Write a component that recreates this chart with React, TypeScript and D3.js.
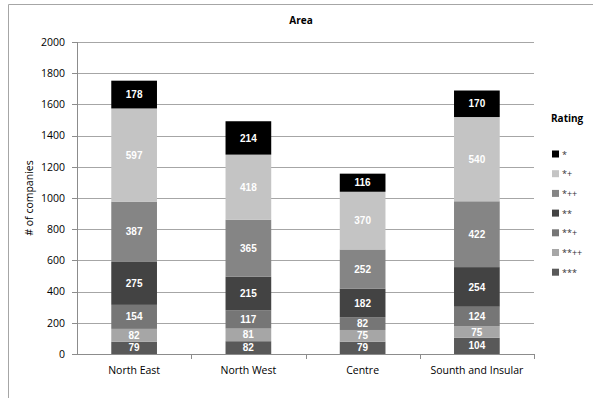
import React from "react";
import * as d3 from "d3";

// Company counts per area, stacked by rating (bottom to top)
const areas = ["North East", "North West", "Centre", "Sounth and Insular"];
const ratings = ["***", "**++", "**+", "**", "*++", "*+", "*"];
const rating3 = [79, 82, 79, 104];      // ***
const rating2pp = [82, 81, 75, 75];     // **++
const rating2p = [154, 117, 82, 124];   // **+
const rating2 = [275, 215, 182, 254];   // **
const rating1pp = [387, 365, 252, 422]; // *++
const rating1p = [597, 418, 370, 540];  // *+
const rating1 = [178, 214, 116, 170];   // *
const yTicks = [0, 200, 400, 600, 800, 1000, 1200, 1400, 1600, 1800, 2000];

const seriesValues = [rating3, rating2pp, rating2p, rating2, rating1pp, rating1p, rating1];
const colors: Record<string, string> = {
  "***": "#595959",
  "**++": "#a6a6a6",
  "**+": "#767676",
  "**": "#434343",
  "*++": "#858585",
  "*+": "#c4c4c4",
  "*": "#000000",
};
const legendOrder = ["*", "*+", "*++", "**", "**+", "**++", "***"];

const W = 593;
const H = 399;
const FONT = "'Open Sans', 'Liberation Sans', sans-serif";
const LABEL_FONT = "'Liberation Sans', 'DejaVu Sans', sans-serif";

export default function App() {
  const rows = areas.map((a, i) => {
    const r: Record<string, any> = { area: a };
    ratings.forEach((k, j) => (r[k] = seriesValues[j][i]));
    return r;
  });
  const stacked = d3.stack<any>().keys(ratings)(rows);

  const x = d3.scaleBand<string>().domain(areas).range([77, 534]).paddingInner(0.6).paddingOuter(0.3);
  const y = d3.scaleLinear().domain([0, 2000]).range([354, 42]);
  const step = x.step();
  const x0 = 77;

  return (
    <svg
      width={W}
      height={H}
      style={{ position: "absolute", left: 0, top: 0, background: "#fff" }}
      fontFamily={FONT}
    >
      <rect x={0} y={0} width={W} height={H} fill="#fff" />
      {/* outer frame */}
      <line x1={8.5} y1={4.5} x2={W} y2={4.5} stroke="#a6a6a6" />
      <line x1={8.5} y1={4.5} x2={8.5} y2={398} stroke="#a6a6a6" />

      <text x={301} y={24} textAnchor="middle" fontSize={10} fontWeight="bold" fill="#000">
        Area
      </text>

      {/* gridlines and y ticks */}
      {yTicks.map((t) => (
        <g key={t}>
          <line
            x1={x0}
            x2={534}
            y1={Math.round(y(t)) + 0.5}
            y2={Math.round(y(t)) + 0.5}
            stroke={t === 0 ? "#8c8c8c" : "#a6a6a6"}
          />
          <line x1={72} x2={x0} y1={Math.round(y(t)) + 0.5} y2={Math.round(y(t)) + 0.5} stroke="#8c8c8c" />
          <text x={65} y={y(t) + 3.8} textAnchor="end" fontSize={10.5} fill="#000">
            {t}
          </text>
        </g>
      ))}
      <line x1={x0 + 0.5} x2={x0 + 0.5} y1={y(2000)} y2={y(0)} stroke="#8c8c8c" />
      {areas.map((_, i) => (
        <line
          key={i}
          x1={Math.round(x0 + step * (i + 1)) + 0.5}
          x2={Math.round(x0 + step * (i + 1)) + 0.5}
          y1={y(0)}
          y2={y(0) + 5}
          stroke="#8c8c8c"
        />
      ))}

      <text
        transform={`translate(33,198) rotate(-90)`}
        textAnchor="middle"
        fontSize={10.5}
        fill="#000"
      >
        # of companies
      </text>

      {/* stacked bars */}
      {stacked.map((s) => (
        <g key={s.key}>
          {s.map((d, i) => {
            const bx = x(areas[i])!;
            const top = y(d[1]);
            const bot = y(d[0]);
            return (
              <g key={i}>
                <rect x={bx} y={top} width={x.bandwidth()} height={bot - top} fill={colors[s.key]} />
                <text
                  x={bx + x.bandwidth() / 2}
                  y={(top + bot) / 2 + 3.6}
                  textAnchor="middle"
                  fontFamily={LABEL_FONT}
                  fontSize={10}
                  fontWeight="bold"
                  fill="#fff"
                >
                  {d[1] - d[0]}
                </text>
              </g>
            );
          })}
        </g>
      ))}

      {areas.map((a) => (
        <text key={a} x={x(a)! + x.bandwidth() / 2} y={374} textAnchor="middle" fontSize={10.5} fill="#000">
          {a}
        </text>
      ))}

      {/* legend */}
      <text x={551} y={122} fontSize={10} fontWeight="bold" fill="#000">
        Rating
      </text>
      {legendOrder.map((k, i) => {
        const cy = 154 + i * 19.7;
        return (
          <g key={k}>
            <rect x={552} y={cy - 3.5} width={7} height={7} fill={colors[k]} />
            <text x={562} y={cy + 3.5} fontSize={9} fill="#333">
              {k}
            </text>
          </g>
        );
      })}
    </svg>
  );
}
